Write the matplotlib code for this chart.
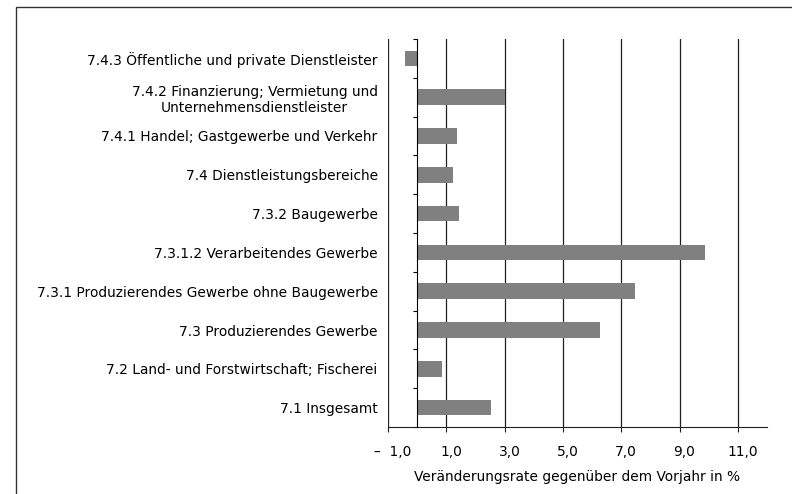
import matplotlib
matplotlib.use("Agg")
import matplotlib.pyplot as plt
from matplotlib.patches import Rectangle
from matplotlib.transforms import ScaledTranslation
import numpy as np

# categories, top to bottom as in the chart
categories = [
    "7.4.3 Öffentliche und private Dienstleister",
    "7.4.2 Finanzierung; Vermietung und\nUnternehmensdienstleister",
    "7.4.1 Handel; Gastgewerbe und Verkehr",
    "7.4 Dienstleistungsbereiche",
    "7.3.2 Baugewerbe",
    "7.3.1.2 Verarbeitendes Gewerbe",
    "7.3.1 Produzierendes Gewerbe ohne Baugewerbe",
    "7.3 Produzierendes Gewerbe",
    "7.2 Land- und Forstwirtschaft; Fischerei",
    "7.1 Insgesamt",
]
values = [-0.4, 3.0, 1.36, 1.24, 1.42, 9.86, 7.46, 6.26, 0.86, 2.52]

x_ticks = [-1, 1, 3, 5, 7, 9, 11]
x_ticklabels = ["–  1,0", "1,0", "3,0", "5,0", "7,0", "9,0", "11,0"]
x_label = "Veränderungsrate gegenüber dem Vorjahr in %"

plt.rcParams['font.family'] = ['DejaVu Sans']
fs = 9.9

fig = plt.figure(figsize=(7.92, 4.94), dpi=100)
ax = fig.add_axes([388/792, 1-427/494, (767-388)/792, (427-39)/494])

y = np.arange(len(categories))
ax.barh(y, values, height=0.4, color='#808080', zorder=3)

ax.set_ylim(len(categories)-0.5, -0.5)
ax.set_xlim(-1, 12)

# vertical gridlines
ax.set_xticks(x_ticks)
ax.set_xticklabels(x_ticklabels, fontsize=fs)
ax.grid(axis='x', color='#202020', linewidth=0.9, zorder=1)
ax.tick_params(axis='x', direction='out', length=3.6, width=0.8, pad=9.5,
               color='#202020')
for lab in ax.get_xticklabels():
    lab.set_transform(lab.get_transform() + ScaledTranslation(0.05, 0, fig.dpi_scale_trans))

# category axis at zero
ax.spines['left'].set_position(('data', 0))
ax.spines['left'].set_color('black')
ax.spines['left'].set_zorder(4)
ax.spines['top'].set_visible(False)
ax.spines['right'].set_visible(False)
ax.spines['bottom'].set_color('#202020')
ax.set_yticks(y)
ax.set_yticklabels(categories, fontsize=fs, multialignment='center')
ax.tick_params(axis='y', length=0, pad=28.4)
ax.set_yticks(np.arange(len(categories)+1)-0.5, minor=True)
ax.tick_params(axis='y', which='minor', length=2.9, width=0.8, color='black')

ax.set_xlabel(x_label, fontsize=fs, labelpad=7.5)

# outer frame (cut off at right and bottom)
fig.patches.append(Rectangle((16/792, -0.2), 1.5, 1-7/494+0.2, transform=fig.transFigure,
                             fill=False, edgecolor='#333333', linewidth=1))

plt.savefig('out.png', dpi=100)
plt.close(fig)
